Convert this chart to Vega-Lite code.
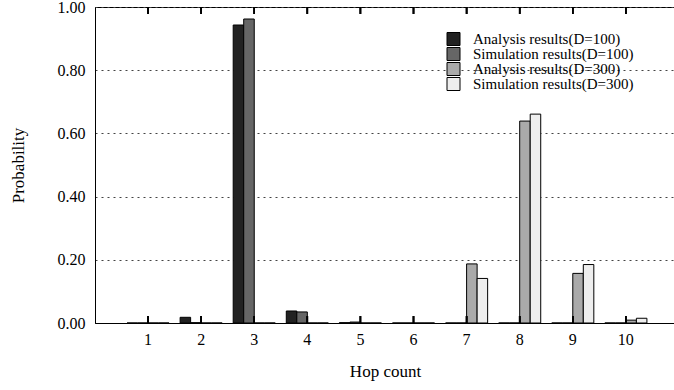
{
  "$schema": "https://vega.github.io/schema/vega-lite/v6.json",
  "autosize": "none",
  "padding": {"left": 95, "top": 7, "right": 0, "bottom": 67},
  "width": 580,
  "height": 316,
  "background": "white",
  "config": {
    "font": "Liberation Serif",
    "view": {"stroke": "black", "strokeWidth": 1},
    "axis": {
      "labelFont": "Liberation Serif",
      "titleFont": "Liberation Serif",
      "labelColor": "black",
      "titleColor": "black",
      "domainColor": "black",
      "tickColor": "black",
      "titleFontWeight": "normal"
    }
  },
  "data": {
    "values": [
      {"hop": 1, "series": "Analysis results(D=100)", "p": 0},
      {"hop": 1, "series": "Simulation results(D=100)", "p": 0},
      {"hop": 1, "series": "Analysis results(D=300)", "p": 0},
      {"hop": 1, "series": "Simulation results(D=300)", "p": 0},
      {"hop": 2, "series": "Analysis results(D=100)", "p": 0.018},
      {"hop": 2, "series": "Simulation results(D=100)", "p": 0.001},
      {"hop": 2, "series": "Analysis results(D=300)", "p": 0},
      {"hop": 2, "series": "Simulation results(D=300)", "p": 0},
      {"hop": 3, "series": "Analysis results(D=100)", "p": 0.943},
      {"hop": 3, "series": "Simulation results(D=100)", "p": 0.962},
      {"hop": 3, "series": "Analysis results(D=300)", "p": 0},
      {"hop": 3, "series": "Simulation results(D=300)", "p": 0},
      {"hop": 4, "series": "Analysis results(D=100)", "p": 0.038},
      {"hop": 4, "series": "Simulation results(D=100)", "p": 0.035},
      {"hop": 4, "series": "Analysis results(D=300)", "p": 0},
      {"hop": 4, "series": "Simulation results(D=300)", "p": 0},
      {"hop": 5, "series": "Analysis results(D=100)", "p": 0.001},
      {"hop": 5, "series": "Simulation results(D=100)", "p": 0.003},
      {"hop": 5, "series": "Analysis results(D=300)", "p": 0},
      {"hop": 5, "series": "Simulation results(D=300)", "p": 0},
      {"hop": 6, "series": "Analysis results(D=100)", "p": 0},
      {"hop": 6, "series": "Simulation results(D=100)", "p": 0},
      {"hop": 6, "series": "Analysis results(D=300)", "p": 0},
      {"hop": 6, "series": "Simulation results(D=300)", "p": 0},
      {"hop": 7, "series": "Analysis results(D=100)", "p": 0},
      {"hop": 7, "series": "Simulation results(D=100)", "p": 0},
      {"hop": 7, "series": "Analysis results(D=300)", "p": 0.187},
      {"hop": 7, "series": "Simulation results(D=300)", "p": 0.141},
      {"hop": 8, "series": "Analysis results(D=100)", "p": 0},
      {"hop": 8, "series": "Simulation results(D=100)", "p": 0},
      {"hop": 8, "series": "Analysis results(D=300)", "p": 0.639},
      {"hop": 8, "series": "Simulation results(D=300)", "p": 0.661},
      {"hop": 9, "series": "Analysis results(D=100)", "p": 0},
      {"hop": 9, "series": "Simulation results(D=100)", "p": 0},
      {"hop": 9, "series": "Analysis results(D=300)", "p": 0.157},
      {"hop": 9, "series": "Simulation results(D=300)", "p": 0.185},
      {"hop": 10, "series": "Analysis results(D=100)", "p": 0},
      {"hop": 10, "series": "Simulation results(D=100)", "p": 0},
      {"hop": 10, "series": "Analysis results(D=300)", "p": 0.009},
      {"hop": 10, "series": "Simulation results(D=300)", "p": 0.015}
    ]
  },
  "layer": [
    {
      "mark": {"type": "bar", "stroke": "black", "strokeWidth": 1},
      "encoding": {
        "x": {
          "field": "hop",
          "type": "ordinal",
          "scale": {"paddingInner": 0, "paddingOuter": 0.4623, "align": 0.54},
          "axis": {
            "orient": "bottom",
            "title": "Hop count",
            "titleFontSize": 17,
            "titlePadding": 16,
            "labelFontSize": 16,
            "labelAngle": 0,
            "labelPadding": 8,
            "ticks": false,
            "grid": false
          }
        },
        "xOffset": {
          "field": "series",
          "type": "nominal",
          "sort": ["Analysis results(D=100)", "Simulation results(D=100)", "Analysis results(D=300)", "Simulation results(D=300)"],
          "scale": {"paddingInner": 0, "paddingOuter": 0.524}
        },
        "y": {
          "field": "p",
          "type": "quantitative",
          "scale": {"domain": [0, 1], "nice": false, "zero": true},
          "axis": {
            "title": "Probability",
            "titleFontSize": 17,
            "titlePadding": 30,
            "labelFontSize": 16,
            "format": ".2f",
            "values": [0, 0.2, 0.4, 0.6, 0.8, 1.0],
            "ticks": false,
            "labelPadding": 10,
            "grid": true,
            "gridDash": [2, 4],
            "gridColor": "#444444",
            "gridWidth": 1
          }
        },
        "color": {
          "field": "series",
          "type": "nominal",
          "sort": ["Analysis results(D=100)", "Simulation results(D=100)", "Analysis results(D=300)", "Simulation results(D=300)"],
          "scale": {"range": ["#222222", "#666666", "#aaaaaa", "#eeeeee"]},
          "legend": {
            "title": null,
            "orient": "none",
            "legendX": 351,
            "legendY": 25,
            "symbolType": "square",
            "symbolSize": 169,
            "symbolStrokeColor": "black",
            "symbolStrokeWidth": 1,
            "symbolOpacity": 1,
            "labelFont": "Liberation Serif",
            "labelFontSize": 15,
            "labelColor": "black",
            "labelOffset": 12,
            "clipHeight": 14,
            "rowPadding": 0,
            "labelLimit": 300
          }
        }
      }
    },
    {
      "mark": {"type": "rule", "color": "black", "strokeWidth": 1.5},
      "encoding": {
        "x": {"field": "hop", "type": "ordinal"},
        "y": {"datum": 0},
        "y2": {"datum": 0.022}
      }
    },
    {
      "mark": {"type": "rule", "color": "black", "strokeWidth": 1.5},
      "encoding": {
        "x": {"field": "hop", "type": "ordinal"},
        "y": {"datum": 1},
        "y2": {"datum": 0.978}
      }
    }
  ]
}
